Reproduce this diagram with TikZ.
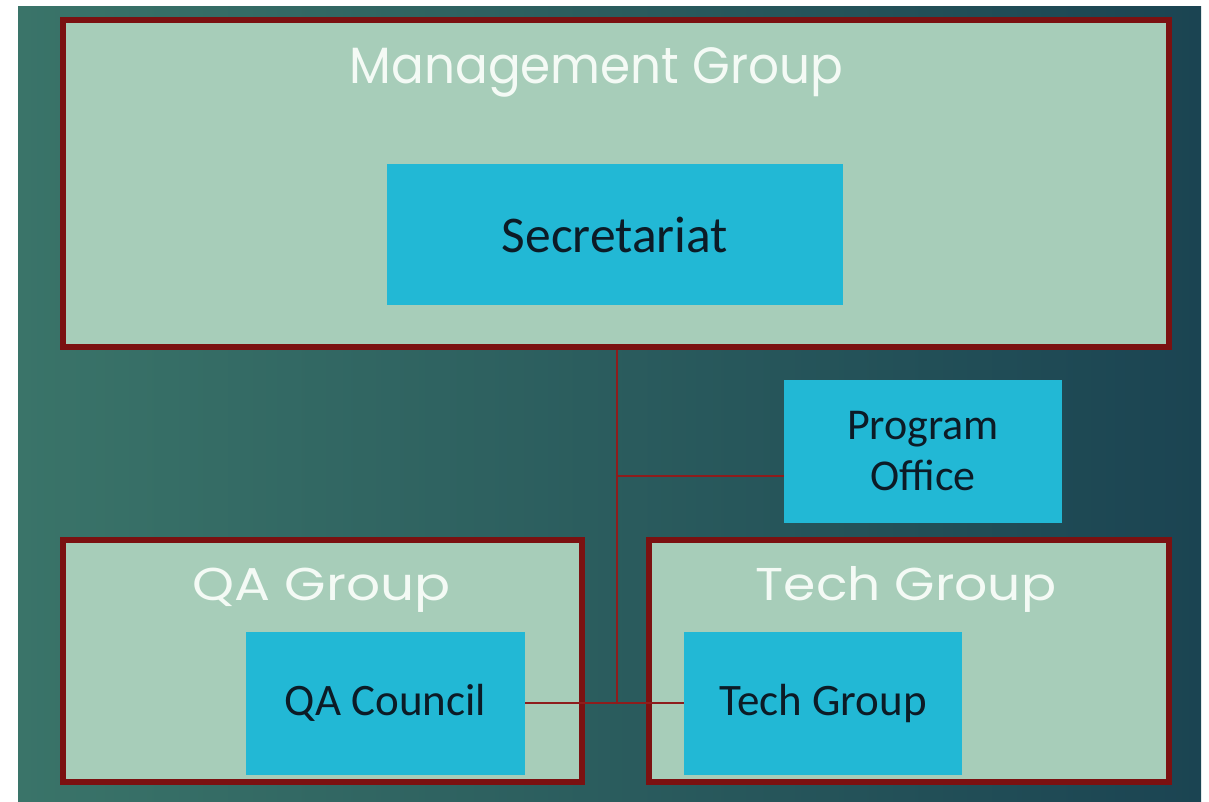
\documentclass[tikz,border=0pt]{standalone}
\usepackage{fontspec}
\setmainfont{Carlito}
\newfontfamily\titlefont{Poppins}
\definecolor{bgL}{HTML}{3A7469}
\definecolor{bgR}{HTML}{1B4452}
\definecolor{grpfill}{HTML}{A7CDB9}
\definecolor{cyanbox}{HTML}{22B8D5}
\definecolor{brd}{HTML}{7B1111}
\definecolor{conn}{HTML}{8E1C1C}
\definecolor{txtdark}{HTML}{0C1B26}
\definecolor{titlewhite}{HTML}{F4FAF5}
\tikzset{
  grp/.style={draw=brd, line width=6pt, fill=grpfill, rectangle, inner sep=0pt},
  sub/.style={fill=cyanbox, rectangle, inner sep=0pt, text=txtdark, align=center},
  ttl/.style={anchor=base, text=titlewhite, inner sep=0pt},
  link/.style={draw=conn, line width=2pt}
}
\begin{document}
\begin{tikzpicture}[x=1pt,y=-1pt]
\useasboundingbox (0,0) rectangle (1209,801);
\fill[white] (0,0) rectangle (1209,801);
\shade[left color=bgL, right color=bgR] (18,6) rectangle (1201,801);
% group boxes
\node[grp, minimum width=1106pt, minimum height=327pt] (mg) at (616,183.5) {};
\node[grp, minimum width=519pt, minimum height=242pt] (qa) at (322.5,661) {};
\node[grp, minimum width=520pt, minimum height=242pt] (tg) at (909,661) {};
% titles
\node[ttl, font=\titlefont\fontsize{51}{60}\selectfont] (mgt) at (596.5,83) {\scalebox{0.95}[1]{Management Group}};
\node[ttl, font=\titlefont\fontsize{46}{54}\selectfont] (qat) at (321.5,600) {\scalebox{1.16}[1]{QA Group}};
\node[ttl, font=\titlefont\fontsize{46}{54}\selectfont] (tgt) at (906,600) {\scalebox{1.13}[1]{Tech Group}};
% inner boxes
\node[sub, minimum width=456pt, minimum height=141pt, font=\fontsize{51.5}{60}\selectfont] (sec) at (615,234.5) {Secretariat};
\node[sub, minimum width=278pt, minimum height=143pt, font=\fontsize{44}{51}\selectfont] (po) at (923,451.5) {Program\\Office};
\node[sub, minimum width=279pt, minimum height=143pt, font=\fontsize{45}{51}\selectfont] (qc) at (385.5,703) {QA Council};
\node[sub, minimum width=278pt, minimum height=143pt, font=\fontsize{45}{51}\selectfont] (tc) at (823,703) {Tech Group};
% connectors
\coordinate (top) at (617,350);
\coordinate (mid) at (617,476);
\coordinate (bot) at (617,703);
\draw[link] (top) -- (bot);
\draw[link] (mid) -- (po.west |- mid);
\draw[link] (qc.east) -- (tc.west);
\end{tikzpicture}
\end{document}
